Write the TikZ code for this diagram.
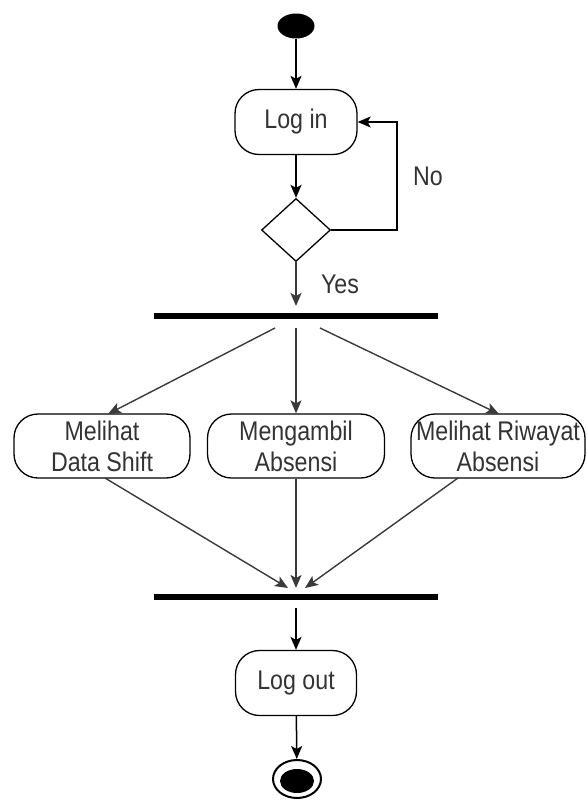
\documentclass[tikz,border=0pt]{standalone}
\usepackage{fontspec}
\setmainfont{Liberation Sans}[FakeStretch=0.86]
\usetikzlibrary{arrows.meta,shapes.geometric}
\definecolor{txt}{HTML}{333333}
\definecolor{fline}{HTML}{3A3A3A}
\begin{document}
\begin{tikzpicture}[x=1pt,y=-1pt,
  act/.style={draw, rounded corners=24pt, line width=1.3pt, align=center,
    font=\fontsize{27}{31}\selectfont, text=txt, inner sep=0pt},
  arr/.style={-{Stealth[length=13pt,width=11pt,inset=3pt]}, line width=1.8pt},
  farr/.style={-{Stealth[length=13pt,width=11pt,inset=3pt]}, line width=1.4pt, draw=fline},
  barbox/.style={fill=black, inner sep=0pt, minimum height=6pt, minimum width=284pt},
  lbl/.style={font=\fontsize{27}{31}\selectfont, text=txt, inner sep=0pt}
]
\useasboundingbox (0,0) rectangle (586,800);

% start
\node[ellipse, fill=black, minimum width=37pt, minimum height=25pt, inner sep=0pt] (start) at (296,26) {};
\node[act, minimum width=122pt, minimum height=65pt] (login) at (296,122) {Log in};
\node[diamond, draw, line width=1.3pt, minimum width=69pt, minimum height=63pt, inner sep=0pt] (dec) at (296,230) {};
\coordinate (loopc) at (397,230);
\node[barbox] (fork) at (296,316) {};

\draw[arr] (start) -- (login);
\draw[arr] (login) -- (dec);
\draw[arr, line width=1.3pt] (dec.east) -- (loopc) |- (login.east);
\node[lbl] (no) at (428,176) {No};
\coordinate (yesend) at (296,306);
\draw[arr, line width=1.6pt, draw=fline] (dec.south) -- (yesend);
\node[lbl] (yes) at (340,284) {Yes};

% activities
\node[act, minimum width=176pt, minimum height=64pt] (a1) at (102,446) {Melihat\\Data Shift};
\node[act, minimum width=177pt, minimum height=64pt] (a2) at (296,446) {Mengambil\\Absensi};
\node[act, minimum width=174pt, minimum height=64pt] (a3) at (498,446) {Melihat Riwayat\\Absensi};

\coordinate (f1l) at (275,328);
\coordinate (f1m) at (296,328);
\coordinate (f1r) at (320,328);
\coordinate (a1t) at (108,414);
\coordinate (a3t) at (499,414);
\draw[farr] (f1l) -- (a1t);
\draw[farr] (f1m) -- (a2.north);
\draw[farr] (f1r) -- (a3t);

\node[barbox] (join) at (296,597) {};
\coordinate (a1b) at (105,478);
\coordinate (a3b) at (458,478);
\coordinate (j1) at (288,588);
\coordinate (j2) at (296,588);
\coordinate (j3) at (305,588);
\draw[farr] (a1b) -- (j1);
\draw[farr] (a2.south) -- (j2);
\draw[farr] (a3b) -- (j3);

\node[act, minimum width=121pt, minimum height=65pt] (logout) at (296,683) {Log out};
\coordinate (jb) at (296,608);
\draw[arr, line width=1.5pt] (jb) -- (logout);

% end
\node[ellipse, draw, line width=2pt, minimum width=48pt, minimum height=38pt, inner sep=0pt] (endo) at (297,779) {};
\node[ellipse, fill=black, minimum width=34pt, minimum height=24pt, inner sep=0pt] (endi) at (297,781) {};
\draw[arr, line width=1.5pt] (logout) -- (endo);
\end{tikzpicture}
\end{document}
